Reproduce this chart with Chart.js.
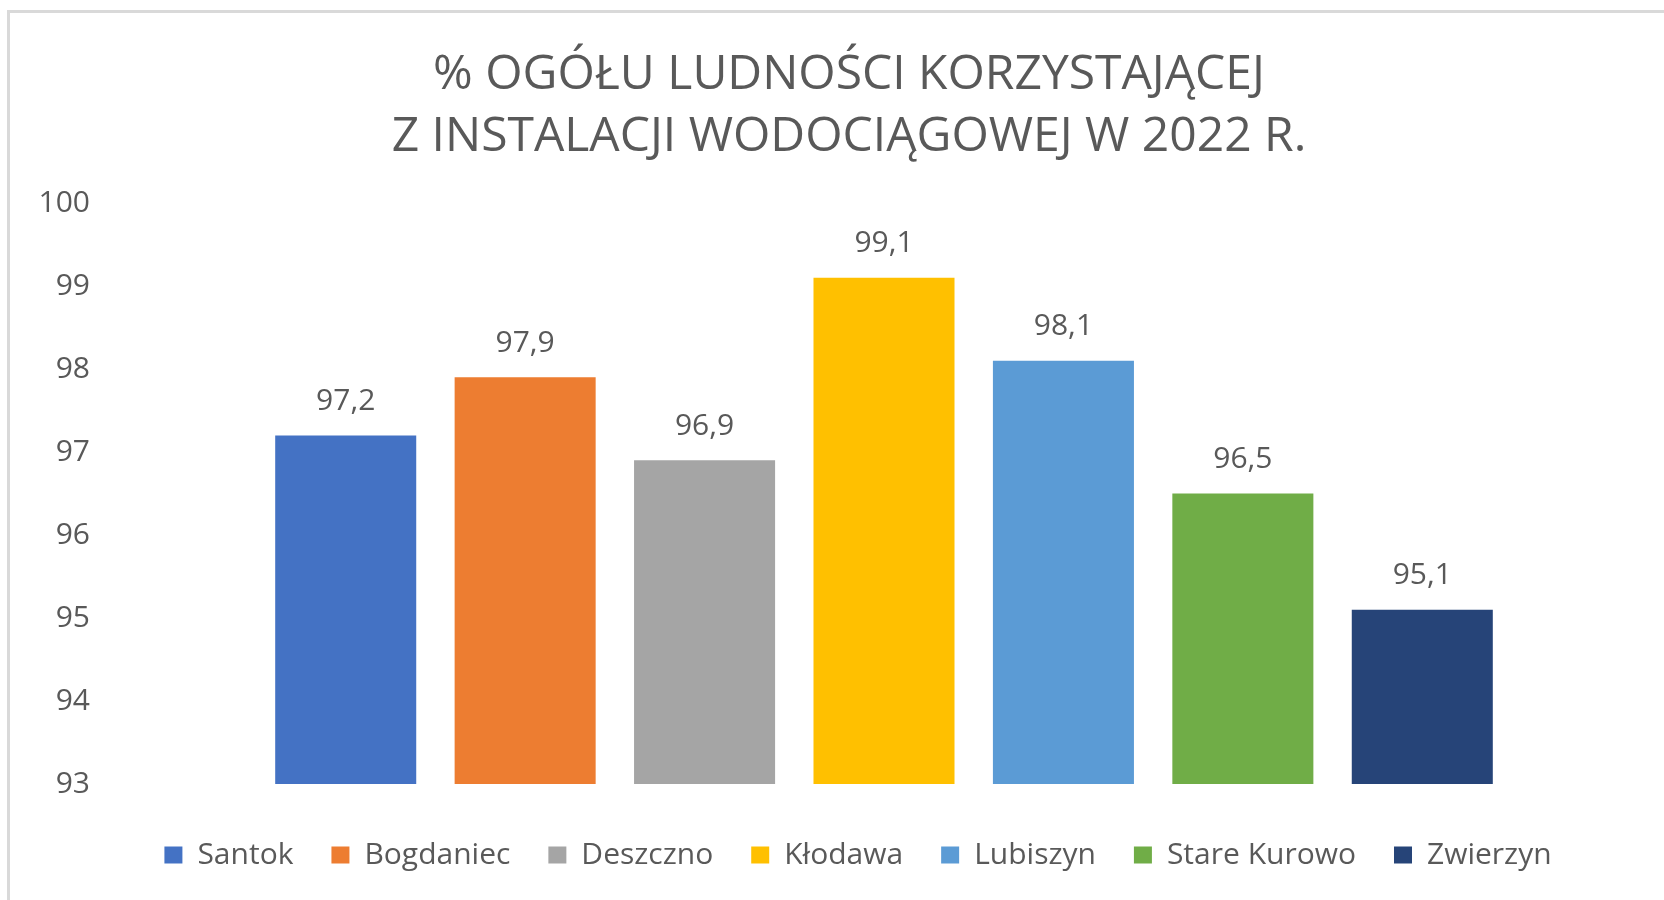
<!DOCTYPE html>
<html>
<head>
<meta charset="utf-8">
<script src="https://cdn.jsdelivr.net/npm/chart.js@4/dist/chart.umd.min.js"></script>
<style>
    html, body { margin: 0; padding: 0; background: #fff; overflow: hidden; }
    #ramka { position: absolute; left: 7px; top: 10px; width: 1720px; height: 960px; border: 3px solid #d9d9d9; box-sizing: border-box; }
    #wykres { position: absolute; left: 0; top: 0; }
</style>
</head>
<body>
<div id="ramka"></div>
<canvas id="wykres" width="1664" height="900"></canvas>
<script>
//Dane wykresu
var gminy = ['Santok', 'Bogdaniec', 'Deszczno', 'Kłodawa', 'Lubiszyn', 'Stare Kurowo', 'Zwierzyn'];
var procent = [97.2, 97.9, 96.9, 99.1, 98.1, 96.5, 95.1];
var podzialkaY = [93, 94, 95, 96, 97, 98, 99, 100];
var tytul = ['% OGÓŁU LUDNOŚCI KORZYSTAJĄCEJ', 'Z INSTALACJI WODOCIĄGOWEJ W 2022 R.'];

var kolory = ['#4472C4', '#ED7D31', '#A5A5A5', '#FFC000', '#5B9BD5', '#70AD47', '#264478'];
var szary = '#595959';
var czcionka = 'Open Sans';

//Funkcja do formatowania liczb z przecinkiem
function formatuj(v)
{
    return v.toFixed(1).replace('.', ',');
}

//Pusta oś, która robi tylko odstęp
function pustaOs(pozycja, szerokosc, waga)
{
    return {
        type: 'linear',
        position: pozycja,
        weight: waga,
        grid: { display: false, drawTicks: false },
        border: { display: false },
        ticks: { display: false, padding: 0 },
        afterFit: function(s) { s.width = szerokosc; }
    };
}

//Wtyczka rysująca wartości nad słupkami
var etykiety = {
    id: 'etykiety',
    afterLayout: function(chart) {
        //przesunięcie legendy jak w oryginale
        chart.legend.left += 9;
        chart.legend.right += 9;
    },
    afterDatasetsDraw: function(chart) {
        var ctx = chart.ctx;
        var meta = chart.getDatasetMeta(0);
        ctx.save();
        ctx.font = '30px "' + czcionka + '"';
        ctx.fillStyle = szary;
        ctx.textAlign = 'center';
        ctx.textBaseline = 'middle';
        meta.data.forEach(function(bar, i) {
            ctx.fillText(formatuj(chart.data.datasets[0].data[i]), bar.x, bar.y - 34);
        });
        ctx.restore();
    }
};

var context = document.getElementById('wykres');
var grafico = new Chart(context, {
    type: 'bar',
    data: {
        labels: gminy,
        datasets: [
            {
            label: 'Procent',
            backgroundColor: kolory,
            data: procent,
            barPercentage: 0.786,
            categoryPercentage: 1
            }
        ]
    },
    options: {
        responsive: false,
        animation: false,
        layout: { padding: { left: 34, right: 0, top: 0, bottom: 20 } },
        scales: {
            x: {
                grid: { display: false, drawTicks: false },
                border: { display: false },
                ticks: { display: false },
                afterFit: function(s) { s.height = 18; }
            },
            y: {
                min: podzialkaY[0],
                max: podzialkaY[podzialkaY.length - 1],
                weight: 10,
                grid: { display: false, drawTicks: false },
                border: { display: false },
                ticks: {
                    stepSize: 1,
                    padding: 8,
                    color: szary,
                    font: { family: czcionka, size: 30 }
                },
                afterFit: function(s) { s.width = 64; }
            },
            odstep: pustaOs('left', 158, 0),
            prawa: pustaOs('right', 152, 0)
        },
        plugins: {
            title: {
                display: true,
                text: tytul,
                color: szary,
                font: { family: czcionka, size: 48, weight: 'normal', lineHeight: 1.292 },
                padding: { top: 44, bottom: 35 }
            },
            legend: {
                position: 'bottom',
                onClick: null,
                labels: {
                    boxWidth: 18,
                    boxHeight: 17,
                    padding: 38,
                    color: szary,
                    font: { family: czcionka, size: 30 },
                    generateLabels: function(chart) {
                        return chart.data.labels.map(function(l, i) {
                            return {
                                text: l,
                                fillStyle: chart.data.datasets[0].backgroundColor[i],
                                strokeStyle: chart.data.datasets[0].backgroundColor[i],
                                lineWidth: 0,
                                fontColor: szary,
                                index: i
                            };
                        });
                    }
                }
            },
            tooltip: { enabled: false }
        }
    },
    plugins: [etykiety]
});
</script>
</body>
</html>
